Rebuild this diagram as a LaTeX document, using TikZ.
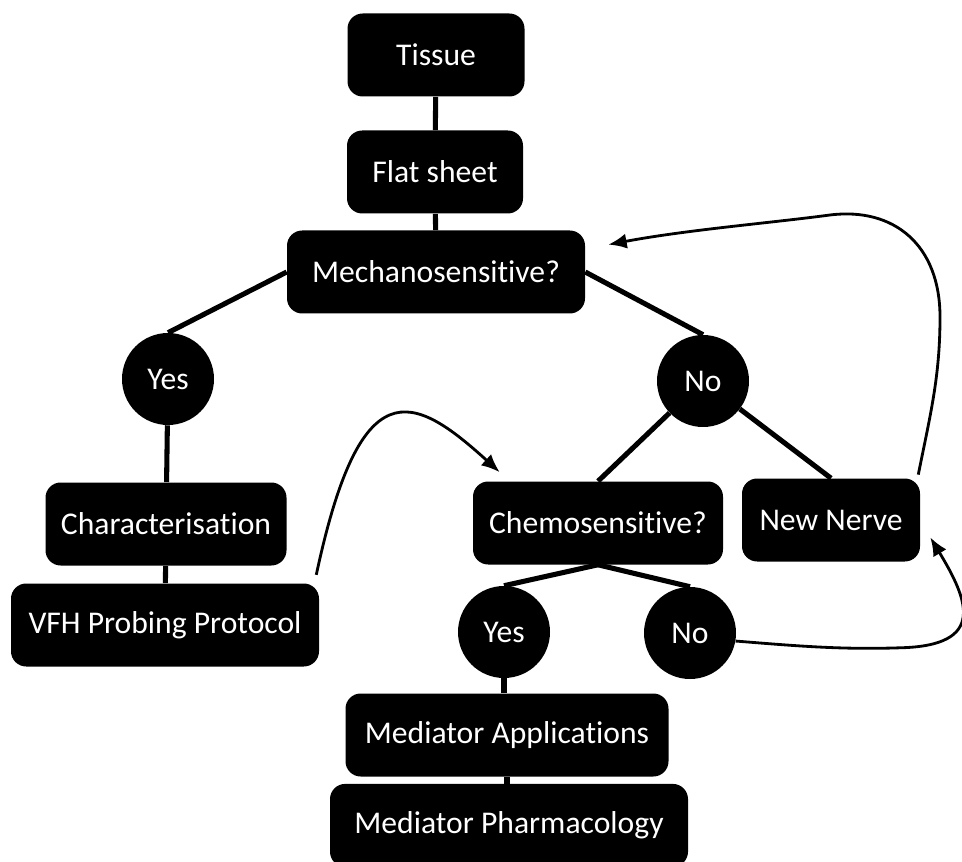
\documentclass[tikz,border=0pt]{standalone}
\usepackage{fontspec}
\setmainfont{Carlito}[Ligatures=NoCommon]
\usepackage{tikz}
\usetikzlibrary{arrows.meta}

\tikzset{
	box/.style={rectangle, rounded corners=0.38cm, fill=black, text=white, minimum height=2.075cm, inner sep=0pt, font=\fontsize{22.5}{27}\selectfont},
	answer/.style={circle, fill=black, text=white, minimum size=2.3cm, inner sep=0pt, font=\fontsize{22.5}{27}\selectfont},
	link/.style={line width=3.6pt},
	feedback/.style={line width=2pt, ->}
}

\begin{document}
\begin{tikzpicture}[>={Latex[length=4.6mm,width=3.8mm]}]
		\useasboundingbox (0,0) rectangle (24.05,21.525);
		\clip (0,0) rectangle (24.05,21.525);
		%\draw [help lines] (0,0) grid (24,21);
		% Preparazione
		\node [box, minimum width=4.425cm] (tissue) at (10.9,20.15) {Tissue};
		\node [box, minimum width=4.4cm] (flat) at (10.875,17.225) {Flat sheet};
		\node [box, minimum width=7.45cm] (mech) at (10.9,14.725) {Mechanosensitive?};
		% Ramo meccanico
		\node [answer] (yesM) at (4.2,12.05) {Yes};
		\node [box, minimum width=6.025cm] (char) at (4.15,8.425) {Characterisation};
		\node [box, minimum width=7.7cm] (vfh) at (4.125,5.9) {VFH Probing Protocol};
		% Ramo chimico
		\node [answer] (noM) at (17.575,12.0) {No};
		\node [box, minimum width=6.25cm] (chemo) at (14.95,8.45) {Chemosensitive?};
		\node [box, minimum width=4.45cm] (nerve) at (20.775,8.525) {New Nerve};
		\node [answer] (yesC) at (12.6,5.725) {Yes};
		\node [answer] (noC) at (17.25,5.7) {No};
		\node [box, minimum width=8.075cm] (medapp) at (12.675,3.15) {Mediator Applications};
		\node [box, minimum width=8.95cm] (medpharm) at (12.725,0.89) {Mediator Pharmacology};
		% Collegamenti
		\draw [link] (tissue) -- (flat);
		\draw [link] (flat) -- (mech);
		\draw [link] (mech.west) -- (yesM.north);
		\draw [link] (mech.east) -- (noM.north);
		\draw [link] (yesM) -- (char);
		\draw [link] (char) -- (vfh);
		\draw [link] (noM) -- (chemo.north);
		\draw [link] (noM) -- (nerve.north);
		\draw [link] (chemo.south) -- (yesC.north);
		\draw [link] (chemo.south) -- (noC.north);
		\draw [link] (yesC) -- (yesC |- medapp.north);
		\draw [link] (medapp.south) -- (medapp.south |- medpharm.north);
		% Frecce di ritorno
		\draw [feedback] ([shift={(-0.075,0.21)}]vfh.north east) .. controls +(1.1,5.15) and +(-2.2,2.0) .. ([shift={(0.675,0.225)}]chemo.north west);
		\draw [feedback] ([shift={(-0.05,0.09)}]nerve.north east) .. controls +(0.3,1.5) and +(0,-1.5) .. (23.5,13.6) .. controls +(0,1.8) and +(1.6,0.2) .. (20.75,16.15) .. controls +(-1.5,-0.2) and +(1.97,0.37) .. ([shift={(0.575,-0.36)}]mech.north east);
		\draw [feedback] (noC.-10) .. controls +(1.5,-0.12) and +(-1.5,-0.05) .. (22.5,5.33) .. controls +(2.2,0.05) and +(0.93,-1.54) .. ([shift={(0.25,0.61)}]nerve.south east);
	\end{tikzpicture}
\end{document}
